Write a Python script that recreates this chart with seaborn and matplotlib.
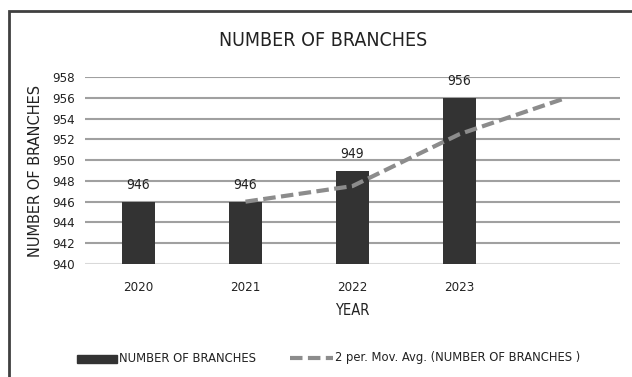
import matplotlib
matplotlib.use("Agg")
import matplotlib.pyplot as plt
import seaborn as sns
import pandas as pd
from matplotlib.patches import Rectangle
from matplotlib.lines import Line2D

years = ["2020", "2021", "2022", "2023"]
branches = [946, 946, 949, 956]
slots = years + [""]
ma_slots = ["2021", "2022", "2023", ""]
ma_values = [946, 947.5, 952.5, 956]
yticks = [940, 942, 944, 946, 948, 950, 952, 954, 956, 958]

sns.set_theme(style="white")
FONT = ["DejaVu Sans"]
plt.rcParams["font.family"] = FONT
plt.rcParams["font.stretch"] = "condensed"

fig = plt.figure(figsize=(6.32, 3.77), dpi=100)
ax = fig.add_axes([85/632, 1-264/377, (620-85)/632, (264-77)/377])

df = pd.DataFrame({"year": years, "n": branches})
sns.barplot(data=df, x="year", y="n", order=slots, color="#333333",
            width=0.31, saturation=1, ax=ax, zorder=3, linewidth=0)

ma_df = pd.DataFrame({"x": [slots.index(s) for s in ma_slots], "v": ma_values})
sns.lineplot(data=ma_df, x="x", y="v", ax=ax, color="#8c8c8c", lw=3,
             linestyle=(0, (3, 1.3)), zorder=4)

ax.set_ylim(940, 958)
ax.set_xlim(-0.5, 4.5)
ax.set_yticks(yticks)
ax.set_yticklabels([str(t) for t in yticks], fontsize=9.5, color="#222222")
ax.set_xticks(range(len(slots)))
ax.set_xticklabels(slots, fontsize=9.5, color="#222222")
ax.tick_params(axis="both", length=0, pad=7)
ax.tick_params(axis="x", pad=12)
for t in yticks:
    ax.axhline(t, color="#d9d9d9" if t == 940 else "#a0a0a0", lw=1.5, zorder=1)
for s in ax.spines.values():
    s.set_visible(False)

for i, v in enumerate(branches):
    ax.text(i, v + 0.9, str(v), ha="center", va="bottom", fontsize=10, color="#222222")

ax.set_xlabel("YEAR", fontsize=10.5, color="#222222", labelpad=7)
ax.set_ylabel("NUMBER OF BRANCHES", fontsize=10.5, color="#222222",
              fontstretch="normal")
ax.yaxis.set_label_coords(-0.078, 0.5)

fig.text(323/632, 1 - 40/377, "NUMBER OF BRANCHES", ha="center",
         va="center", fontsize=14, color="#222222")

# legend
fig.patches.append(Rectangle((77/632, 1-363/377), 40/632, 8/377,
                             transform=fig.transFigure, color="#333333"))
fig.text(119/632, 1-358/377, "NUMBER OF BRANCHES", fontsize=9.3, va="center", color="#222222")
fig.lines.append(Line2D([290/632, 333/632], [1-358/377]*2, transform=fig.transFigure,
                        color="#8c8c8c", lw=3, linestyle=(0, (3, 1.3))))
fig.text(335/632, 1-358/377, "2 per. Mov. Avg. (NUMBER OF BRANCHES )", fontsize=9.3,
         va="center", color="#222222")

# outer border
fig.patches.append(Rectangle((9/632, -0.05), 1.0, 1-11/377+0.05, transform=fig.transFigure,
                             fill=False, edgecolor="#404040", lw=2))

fig.savefig("out.png", dpi=100)
